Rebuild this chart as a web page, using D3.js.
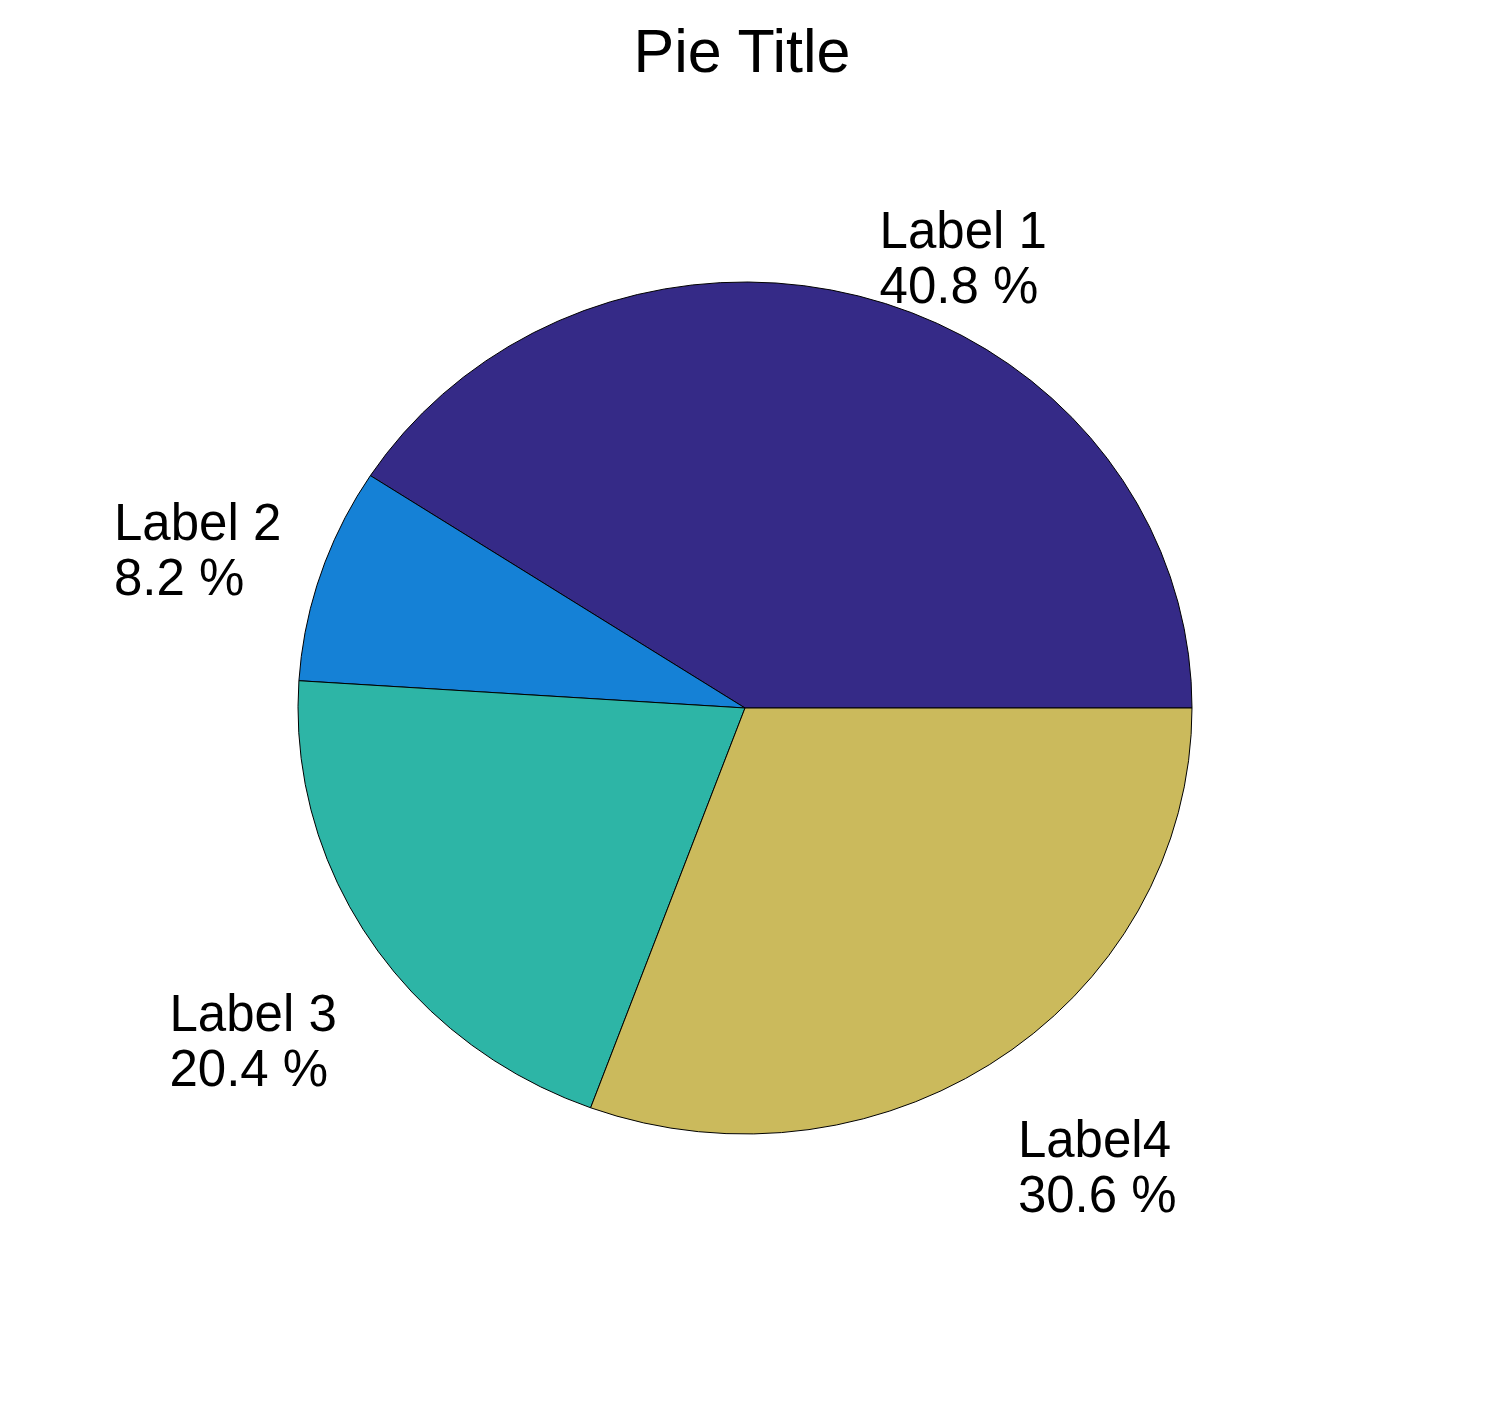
<!DOCTYPE html>
<html>
<head>
<meta charset="utf-8">
<script src="https://cdn.jsdelivr.net/npm/d3@7"></script>
<style>
  html, body { margin: 0; padding: 0; background: #ffffff; }
  svg { display: block; }
  text { font-family: "Liberation Sans", Arial, Helvetica, sans-serif; fill: #000; }
</style>
</head>
<body>
<div id="chart"></div>
<script>
// ---- data ----
const categories = ["Label 1", "Label 2", "Label 3", "Label4"];
const values = [4, 0.8, 2, 3];
const sliceColors = ["#352a87", "#1581d6", "#2db5a6", "#cbba5c"];
const titleText = "Pie Title";
// label nudges (px) relative to the 1.2-radius anchor at each slice's mid angle
const labelNudgeX = [-18, -122, -126, -34];
const labelNudgeY = [30, -7, 44, 30];

// ---- layout ----
const W = 1488, H = 1416;
const cx = 745, cy = 708, rx = 447, ry = 426;
const maxpts = 100;

const svg = d3.select("#chart").append("svg")
  .attr("width", W).attr("height", H);

const x = d3.scaleLinear().domain([-1, 1]).range([cx - rx, cx + rx]);
const y = d3.scaleLinear().domain([-1, 1]).range([cy + ry, cy - ry]);

const total = d3.sum(values);
const pie = d3.pie().sort(null).value(d => d).startAngle(0).endAngle(2 * Math.PI);
const arcs = pie(values);

const line = d3.line().x(d => x(d[0])).y(d => y(d[1]));

arcs.forEach((a, i) => {
  const frac = values[i] / total;
  const n = Math.max(1, Math.ceil(maxpts * frac));
  const pts = [[0, 0]];
  for (let k = 0; k <= n; k++) {
    const t = a.startAngle + (a.endAngle - a.startAngle) * k / n; // counter-clockwise from east
    pts.push([Math.cos(t), Math.sin(t)]);
  }
  pts.push([0, 0]);
  svg.append("path")
    .attr("d", line(pts) + "Z")
    .attr("fill", sliceColors[i])
    .attr("stroke", "#000")
    .attr("stroke-width", 1)
    .attr("stroke-linejoin", "miter");
});

// labels
const fs = 51, lh = 55;
arcs.forEach((a, i) => {
  const mid = (a.startAngle + a.endAngle) / 2;
  const ax = x(1.2 * Math.cos(mid)) + labelNudgeX[i];
  const ay = y(1.2 * Math.sin(mid)) + labelNudgeY[i];
  const pct = (values[i] / total * 100).toFixed(1) + " %";
  const t = svg.append("text")
    .attr("font-size", fs)
    .attr("x", ax).attr("y", ay);
  t.append("tspan").attr("x", ax).attr("y", ay).text(categories[i]);
  t.append("tspan").attr("x", ax).attr("y", ay + lh).text(pct);
});

// title
svg.append("text")
  .attr("x", 742).attr("y", 72)
  .attr("text-anchor", "middle")
  .attr("font-size", 61)
  .text(titleText);
</script>
</body>
</html>
